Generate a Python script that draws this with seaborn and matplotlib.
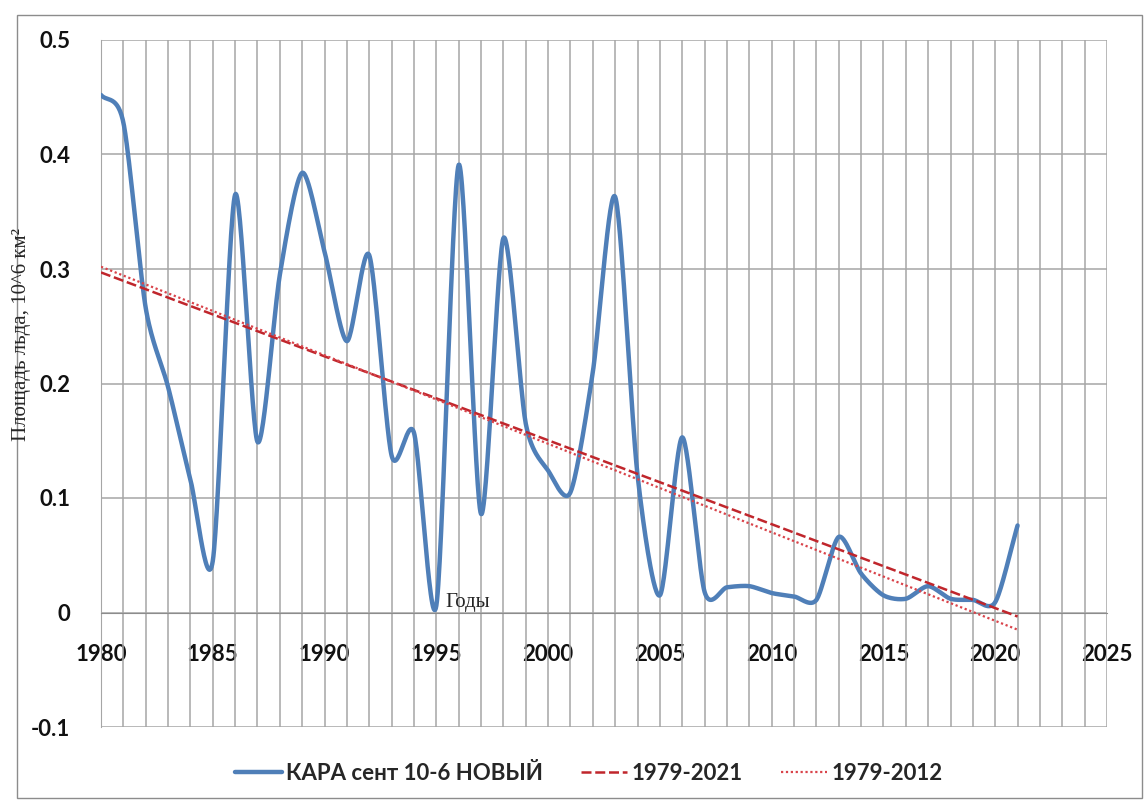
import numpy as np
import pandas as pd
import matplotlib
matplotlib.use("Agg")
import matplotlib.pyplot as plt
import matplotlib.ticker as mticker
import seaborn as sns

# yearly values (10^6 km2)
years = list(range(1980, 2022))
ice_area = [0.452, 0.428, 0.266, 0.197, 0.116, 0.045, 0.365, 0.149, 0.295, 0.384,
            0.315, 0.237, 0.312, 0.137, 0.157, 0.006, 0.391, 0.086, 0.327, 0.165,
            0.124, 0.105, 0.210, 0.363, 0.120, 0.015, 0.153, 0.018, 0.022, 0.023,
            0.017, 0.014, 0.011, 0.066, 0.034, 0.015, 0.012, 0.023, 0.012, 0.011,
            0.009, 0.076]

# linear trend lines, end points
trend_years = [1980, 2021]
trend_1979_2021 = [0.297, -0.0035]
trend_1979_2012 = [0.302, -0.015]

series_name = "КАРА сент 10-6 НОВЫЙ"
trend_names = ["1979-2021", "1979-2012"]


def smooth(xs, ys, n=30, k=0.8):
    # cardinal curve through the points, like Excel's smoothed line
    xs = np.asarray(xs, float)
    ys = np.asarray(ys, float)
    px = np.concatenate([[2 * xs[0] - xs[1]], xs, [2 * xs[-1] - xs[-2]]])
    py = np.concatenate([[2 * ys[0] - ys[1]], ys, [2 * ys[-1] - ys[-2]]])
    ox, oy = [], []
    t = np.linspace(0, 1, n, endpoint=False)
    h00 = 2 * t ** 3 - 3 * t ** 2 + 1
    h10 = t ** 3 - 2 * t ** 2 + t
    h01 = -2 * t ** 3 + 3 * t ** 2
    h11 = t ** 3 - t ** 2
    for i in range(1, len(px) - 2):
        for p, o in ((px, ox), (py, oy)):
            m1 = k * 0.5 * (p[i + 1] - p[i - 1])
            m2 = k * 0.5 * (p[i + 2] - p[i])
            o.extend(h00 * p[i] + h10 * m1 + h01 * p[i + 1] + h11 * m2)
    ox.append(xs[-1])
    oy.append(ys[-1])
    return ox, oy


sx, sy = smooth(years, ice_area)
curve = pd.DataFrame({"year": sx, "area": sy})
trends = pd.DataFrame({"year": trend_years * 2,
                       "area": trend_1979_2021 + trend_1979_2012,
                       "trend": [trend_names[0]] * 2 + [trend_names[1]] * 2})

sns.set_style("white")
fig = plt.figure(figsize=(11.45, 8), dpi=100)
ax = fig.add_axes([101 / 1145, 1 - 727 / 800, (1107 - 101) / 1145, (727 - 40) / 800])

grid_c = "#a6a6a6"
sns.lineplot(data=curve, x="year", y="area", ax=ax, color="#4f7fb8", lw=3.2,
             sort=False, label=series_name, zorder=3)
sns.lineplot(data=trends[trends.trend == trend_names[0]], x="year", y="area", ax=ax,
             color="#c0262c", lw=1.8, label=trend_names[0], zorder=4)
sns.lineplot(data=trends[trends.trend == trend_names[1]], x="year", y="area", ax=ax,
             color="#d9434a", lw=1.6, label=trend_names[1], zorder=4)
ax.lines[1].set_dashes([4, 1.5])
ax.lines[2].set_dashes([1, 1.2])

ax.set_xlim(1980, 2025)
ax.set_ylim(-0.1, 0.5)
ax.xaxis.set_major_locator(mticker.MultipleLocator(5))
ax.xaxis.set_minor_locator(mticker.MultipleLocator(1))
ax.yaxis.set_major_locator(mticker.MultipleLocator(0.1))
ax.yaxis.set_major_formatter(mticker.FuncFormatter(lambda v, p: "0" if abs(v) < 1e-9 else f"{v:.1f}"))
ax.grid(which="both", axis="x", color=grid_c, lw=1.1)
ax.grid(which="major", axis="y", color=grid_c, lw=1.1)

for s in ["top", "right"]:
    ax.spines[s].set_visible(False)
ax.spines["left"].set_color(grid_c)
ax.spines["bottom"].set_position(("data", 0))
ax.spines["bottom"].set_color("#8c8c8c")

ax.tick_params(axis="x", which="major", length=4, direction="inout", color="#8c8c8c", pad=21)
ax.tick_params(axis="x", which="minor", length=0)
ax.tick_params(axis="y", length=0, pad=22)
for lab in ax.get_xticklabels() + ax.get_yticklabels():
    lab.set_fontfamily("Lato")
    lab.set_fontweight("bold")
    lab.set_fontsize(16)
    lab.set_color("#111111")

ax.set_xlabel("")
ax.set_ylabel("")
ax.text(1996.4, 0.0, "Годы", family="Liberation Serif", fontsize=15,
        ha="center", va="bottom", zorder=5)
fig.text(22 / 1145, 1 - 335 / 800, "Площадь льда, 10^6 км²", rotation=90,
         family="Liberation Serif", fontsize=15, ha="center", va="center")

ax.get_legend().remove()
handles, labels = ax.get_legend_handles_labels()
fig.legend(handles, labels, loc="center", bbox_to_anchor=(589 / 1145, 1 - 773 / 800),
           ncol=3, frameon=False, handlelength=2.1, columnspacing=1.7, handletextpad=0.2,
           prop={"family": "Lato", "weight": "bold", "size": 16})

# outer chart border
fig.patches.append(plt.Rectangle((17 / 1145, 0.002), 1125 / 1145, 1 - 15 / 800 - 0.002,
                                 transform=fig.transFigure, fill=False,
                                 ec="#8c8c8c", lw=1))

fig.savefig("out.png", dpi=100)
